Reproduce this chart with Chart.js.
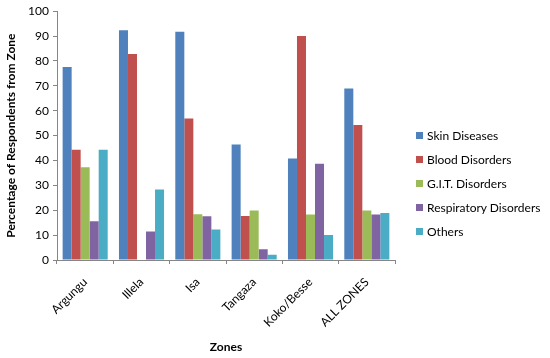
<!DOCTYPE html>
<html>
<head>
<meta charset="utf-8">
<script src="https://cdn.jsdelivr.net/npm/chart.js@4"></script>
<style>
  html, body { margin: 0; padding: 0; background: #fff; }
  #wrap { position: relative; width: 550px; height: 358px; }
  #legend {
    position: absolute; left: 416px; top: 128px;
    font-family: Lato, "Open Sans", sans-serif; font-size: 12px; color: #000;
  }
  #legend div { height: 24px; line-height: 16px; white-space: nowrap; }
  #legend span { display: inline-block; width: 7px; height: 7px; margin-right: 4px; vertical-align: 1px; }
</style>
</head>
<body>
<div id="wrap">
  <canvas id="chart" width="550" height="358"></canvas>
  <div id="legend"></div>
</div>
<script>
const zones = ["Argungu", "Illela", "Isa", "Tangaza", "Koko/Besse", "ALL ZONES"];
const skinDiseases = [77.6, 92.3, 91.7, 46.4, 40.8, 68.9];
const bloodDisorders = [44.3, 82.8, 56.9, 17.7, 90.0, 54.3];
const gitDisorders = [37.3, 0, 18.4, 19.9, 18.3, 19.9];
const respiratoryDisorders = [15.6, 11.5, 17.6, 4.3, 38.7, 18.3];
const others = [44.3, 28.3, 12.3, 2.1, 10.0, 18.9];
const yTicks = [0, 10, 20, 30, 40, 50, 60, 70, 80, 90, 100];

const font = "Lato, 'Open Sans', sans-serif";

function series(label, data, color) {
    return {
        label: label,
        data: data,
        backgroundColor: color,
        borderWidth: 0,
        categoryPercentage: 0.8,
        barPercentage: 1.0
    };
}

const chart = new Chart(document.getElementById("chart"), {
    type: "bar",
    data: {
        labels: zones,
        datasets: [
            series("Skin Diseases", skinDiseases, "#4f81bd"),
            series("Blood Disorders", bloodDisorders, "#c0504d"),
            series("G.I.T. Disorders", gitDisorders, "#9bbb59"),
            series("Respiratory Disorders", respiratoryDisorders, "#8064a2"),
            series("Others", others, "#4bacc6")
        ]
    },
    options: {
        responsive: false,
        animation: false,
        layout: { padding: { top: 4, right: 155, left: 0, bottom: 0 } },
        plugins: {
            legend: { display: false }, // html legend below, easier to place
            tooltip: { enabled: false }
        },
        scales: {
            x: {
                grid: { drawOnChartArea: false, tickLength: 4, color: "#868686" },
                border: { color: "#868686" },
                ticks: {
                    minRotation: 45,
                    maxRotation: 45,
                    padding: 11,
                    color: "#000",
                    font: { family: font, size: 12 }
                },
                title: {
                    display: true,
                    text: "Zones",
                    color: "#000",
                    font: { family: font, size: 12, weight: "bold" }
                },
                afterFit: s => { s.height = 98; }
            },
            y: {
                min: 0,
                max: 100,
                afterBuildTicks: s => { s.ticks = yTicks.map(v => ({ value: v })); },
                grid: { drawOnChartArea: false, tickLength: 4, color: "#868686" },
                border: { color: "#868686" },
                ticks: {
                    color: "#000",
                    padding: 4,
                    font: { family: font, size: 12 }
                },
                title: {
                    display: true,
                    text: "Percentage of Respondents from Zone",
                    color: "#000",
                    font: { family: font, size: 12, weight: "bold" }
                },
                afterFit: s => { s.width = 57; }
            }
        }
    }
});

const legend = document.getElementById("legend");
chart.data.datasets.forEach(ds => {
    const row = document.createElement("div");
    const box = document.createElement("span");
    box.style.background = ds.backgroundColor;
    row.appendChild(box);
    row.appendChild(document.createTextNode(ds.label));
    legend.appendChild(row);
});
</script>
</body>
</html>
